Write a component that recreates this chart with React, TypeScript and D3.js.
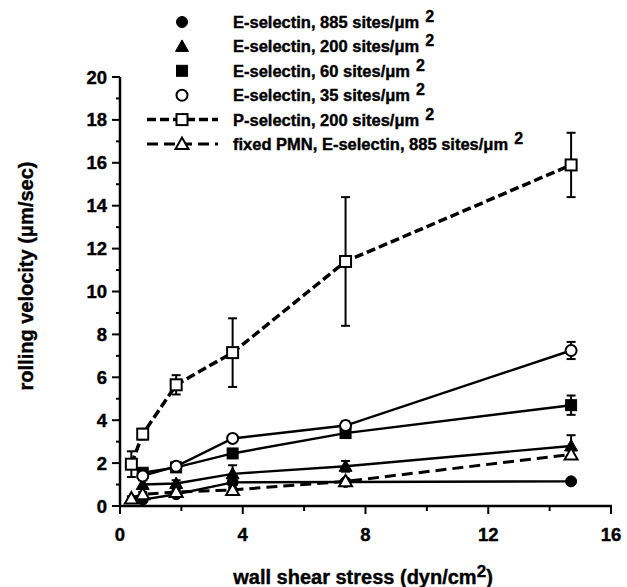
import * as d3 from 'd3';

// shear stress values (dyn/cm2)
const shearAll = [0.37, 0.74, 1.83, 3.67, 7.35, 14.7];
const shearE = [0.74, 1.83, 3.67, 7.35, 14.7];

// rolling velocities (um/sec) and error bars
const e885 = [0.3, 0.55, 1.1, 1.12, 1.15];
const e885Err = [0.05, 0.05, 0.1, 0.1, 0.1];
const e200 = [1.0, 1.05, 1.5, 1.85, 2.8];
const e200Err = [0.2, 0.15, 0.4, 0.25, 0.5];
const e60 = [1.55, 1.8, 2.45, 3.4, 4.7];
const e60Err = [0.15, 0.1, 0.15, 0.15, 0.45];
const e35 = [1.4, 1.85, 3.15, 3.75, 7.25];
const e35Err = [0.1, 0.1, 0.15, 0.2, 0.4];
const pSel = [1.95, 3.35, 5.65, 7.15, 11.4, 15.9];
const pSelErr = [0.6, 0.25, 0.45, 1.6, 3.0, 1.5];
const fixedPMN = [0.35, 0.55, 0.65, 0.75, 1.15, 2.4];
const fixedErr = [0.1, 0.1, 0.1, 0.1, 0.1, 0.2];

const mu = '\u03bc';
const legendLabels = [
  `E-selectin, 885 sites/${mu}m`,
  `E-selectin, 200 sites/${mu}m`,
  `E-selectin, 60 sites/${mu}m`,
  `E-selectin, 35 sites/${mu}m`,
  `P-selectin, 200 sites/${mu}m`,
  `fixed PMN, E-selectin, 885 sites/${mu}m`,
];

const xTicks = [0, 4, 8, 12, 16];
const yTicks = [0, 2, 4, 6, 8, 10, 12, 14, 16, 18, 20];

const font = 'Liberation Sans, Arial, Helvetica, sans-serif';

type Series = {
  xs: number[];
  ys: number[];
  err: number[];
  shape: 'circle' | 'triangle' | 'square';
  open: boolean;
  dash: string;
  width: number;
};

const series: Series[] = [
  { xs: shearE, ys: e885, err: e885Err, shape: 'circle', open: false, dash: '', width: 2.4 },
  { xs: shearE, ys: e200, err: e200Err, shape: 'triangle', open: false, dash: '', width: 2.4 },
  { xs: shearE, ys: e60, err: e60Err, shape: 'square', open: false, dash: '', width: 2.4 },
  { xs: shearE, ys: e35, err: e35Err, shape: 'circle', open: true, dash: '', width: 2.4 },
  { xs: shearAll, ys: pSel, err: pSelErr, shape: 'square', open: true, dash: '9,4', width: 3.5 },
  { xs: shearAll, ys: fixedPMN, err: fixedErr, shape: 'triangle', open: true, dash: '11,6', width: 3 },
];

const Marker = ({ x, y, s }: { x: number; y: number; s: Series }) => {
  const fill = s.open ? '#fff' : '#000';
  const sw = s.open ? 2 : 1;
  if (s.shape === 'circle') return <circle cx={x} cy={y} r={5.5} fill={fill} stroke="#000" strokeWidth={sw} />;
  if (s.shape === 'square') return <rect x={x - 5.5} y={y - 5.5} width={11} height={11} fill={fill} stroke="#000" strokeWidth={sw} />;
  const p = d3.path();
  p.moveTo(x, y - 6.5);
  p.lineTo(x + 6.5, y + 5);
  p.lineTo(x - 6.5, y + 5);
  p.closePath();
  return <path d={p.toString()} fill={fill} stroke="#000" strokeWidth={sw} strokeLinejoin="miter" />;
};

const textStyle = { fontFamily: font, fontWeight: 'bold' as const, stroke: '#000', strokeWidth: 0.4 };

export default function App() {
  const width = 627;
  const height = 587;
  const x = d3.scaleLinear().domain([0, 16]).range([120, 611]);
  const y = d3.scaleLinear().domain([0, 20]).range([506, 77]);

  const line = (s: Series) =>
    d3.line<number>()
      .x((_, i) => x(s.xs[i]))
      .y((v) => y(v))(s.ys) || '';

  return (
    <div style={{ position: 'absolute', left: 0, top: 0 }}>
      <svg width={width} height={height} style={{ display: 'block', background: '#fff' }}>
        {/* axes */}
        <line x1={x(0)} x2={x(0)} y1={y(20)} y2={y(0) + 1} stroke="#000" strokeWidth={2.5} />
        <line x1={x(0) - 1} x2={x(16) + 1} y1={y(0)} y2={y(0)} stroke="#000" strokeWidth={2.5} />
        {d3.range(0, 21, 1).map((v) => (
          <line key={'yt' + v} x1={x(0) - (v % 2 === 0 ? 8 : 4)} x2={x(0)} y1={y(v)} y2={y(v)} stroke="#000" strokeWidth={2} />
        ))}
        {d3.range(0, 17, 2).map((v) => (
          <line key={'xt' + v} x1={x(v)} x2={x(v)} y1={y(0)} y2={y(0) + (v % 4 === 0 ? 8 : 5)} stroke="#000" strokeWidth={2} />
        ))}
        {yTicks.map((v) => (
          <text key={'yl' + v} x={107} y={y(v) + 6.5} textAnchor="end" fontSize={18.5} {...textStyle}>{v}</text>
        ))}
        {xTicks.map((v) => (
          <text key={'xl' + v} x={x(v)} y={541} textAnchor="middle" fontSize={18.5} {...textStyle}>{v}</text>
        ))}
        <text x={363} y={584} textAnchor="middle" fontSize={20} {...textStyle}>
          wall shear stress (dyn/cm<tspan dy={-7} fontSize={17}>2</tspan><tspan dy={7}>)</tspan>
        </text>
        <text transform="translate(33,276) rotate(-90)" textAnchor="middle" fontSize={20} {...textStyle}>
          {`rolling velocity (${mu}m/sec)`}
        </text>

        {/* series lines */}
        {series.map((s, i) => (
          <path key={'l' + i} d={line(s)} fill="none" stroke="#000" strokeWidth={s.width} strokeDasharray={s.dash} />
        ))}
        {/* error bars */}
        {series.map((s, i) =>
          s.ys.map((v, j) => (
            <g key={'e' + i + '-' + j} stroke="#000" strokeWidth={2}>
              <line x1={x(s.xs[j])} x2={x(s.xs[j])} y1={y(v + s.err[j])} y2={y(v - s.err[j])} />
              <line x1={x(s.xs[j]) - 4.5} x2={x(s.xs[j]) + 4.5} y1={y(v + s.err[j])} y2={y(v + s.err[j])} />
              <line x1={x(s.xs[j]) - 4.5} x2={x(s.xs[j]) + 4.5} y1={y(v - s.err[j])} y2={y(v - s.err[j])} />
            </g>
          ))
        )}
        {/* markers */}
        {series.map((s, i) =>
          s.ys.map((v, j) => <Marker key={'m' + i + '-' + j} x={x(s.xs[j])} y={y(v)} s={s} />)
        )}

        {/* legend */}
        {series.map((s, i) => {
          const cy = 22 + i * 24.4;
          return (
            <g key={'lg' + i}>
              {s.dash && (
                <line x1={147} x2={218} y1={cy} y2={cy} stroke="#000" strokeWidth={s.width} strokeDasharray={s.dash} />
              )}
              <Marker x={182} y={cy} s={s} />
              <text x={233} y={cy + 6} fontSize={16.5} {...textStyle}>
                {legendLabels[i]}
                <tspan dx={6} dy={-6} fontSize={16}>2</tspan>
              </text>
            </g>
          );
        })}
      </svg>
    </div>
  );
}
